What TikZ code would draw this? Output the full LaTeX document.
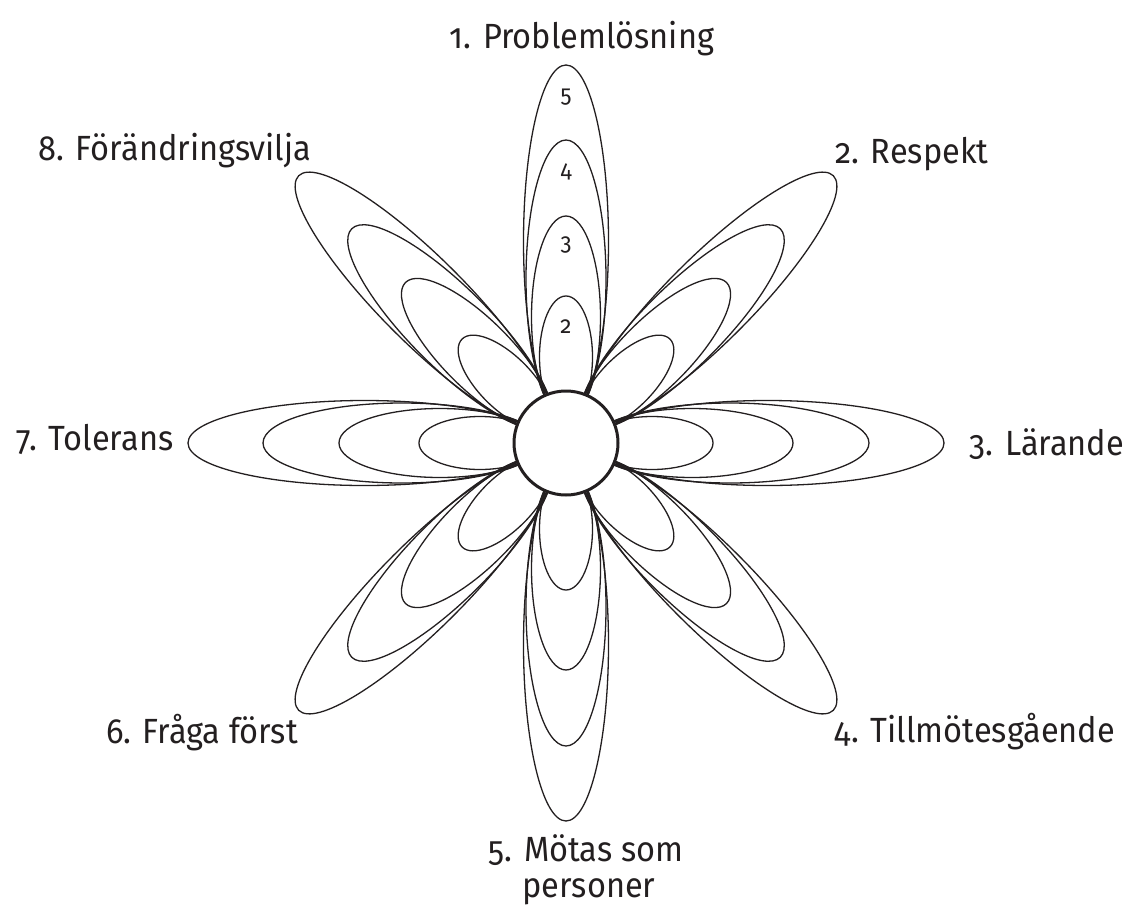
\documentclass[tikz,border=0pt]{standalone}
\usepackage{fontspec}
\setmainfont{Fira Sans}[Numbers=OldStyle, FakeStretch=0.93]
\definecolor{ink}{HTML}{231F20}
\begin{document}
\begin{tikzpicture}[x=1pt,y=-1pt,
  petal/.style={draw=ink, line width=1.3pt},
  lbl/.style={text=ink, font=\fontsize{35}{40}\selectfont, inner sep=0pt, anchor=base},
  num/.style={text=ink, font=\fontsize{24}{28}\selectfont, inner sep=0pt}]
\useasboundingbox (0,0) rectangle (1129,905);
\coordinate (c) at (566,443);
\foreach \ang in {0,45,...,315}{
  \foreach \R/\b in {378/42.5, 303/40, 227/34.5, 147/26.5}{
    \pgfmathsetmacro{\ea}{(\R-25)/2}
    \pgfmathsetmacro{\ec}{(\R+25)/2}
    \begin{scope}[shift={(c)}, rotate=\ang]
      \draw[petal] (\ec,0) ellipse [x radius=\ea pt, y radius=\b pt];
    \end{scope}
  }
}
\node[circle, draw=ink, fill=white, line width=3pt, minimum size=104pt, inner sep=0pt] (hub) at (c) {};
\node[num] (n5) at (566,97) {5};
\node[num] (n4) at (566,172) {4};
\node[num] (n3) at (566,245) {3};
\node[num] (n2) at (566,327) {2};
\node[lbl] (l1) at (582,48) {1. Problemlösning};
\node[lbl] (l2) at (912,163) {2. Respekt};
\node[lbl] (l3) at (1047,455) {3. Lärande};
\node[lbl] (l4) at (975,742) {4. Tillmötesgående};
\node[lbl] (l5a) at (586,861) {5. Mötas som};
\node[lbl] (l5b) at (589,897) {personer};
\node[lbl] (l6) at (202,743) {6. Fråga först};
\node[lbl] (l7) at (95,450) {7. Tolerans};
\node[lbl] (l8) at (175,160) {8. Förändringsvilja};
\end{tikzpicture}
\end{document}
